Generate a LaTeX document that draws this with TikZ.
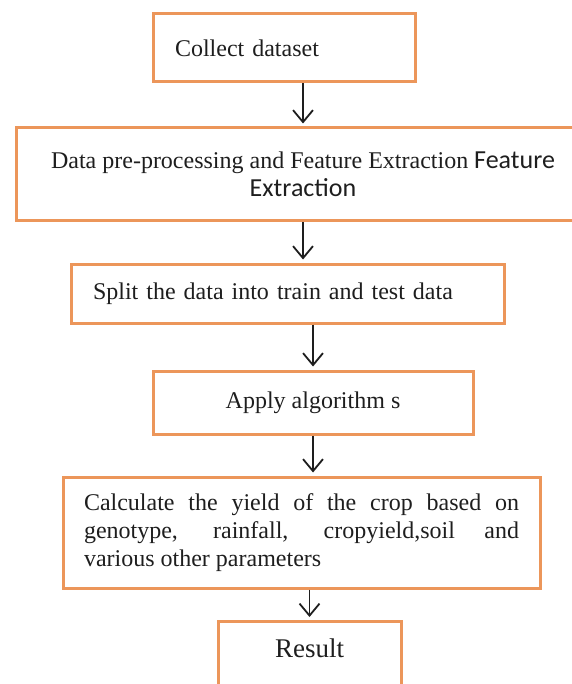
\documentclass[tikz,border=0pt]{standalone}
\usepackage{fontspec}
\setmainfont{Liberation Serif}
\newfontfamily\sidefont{Carlito}
\usetikzlibrary{arrows.meta}
\definecolor{boxorange}{RGB}{236,150,90}
\definecolor{inkgray}{RGB}{30,30,30}

\begin{document}
\begin{tikzpicture}[x=1pt, y=-1pt,
    box/.style={draw=boxorange, line width=3pt, text=inkgray,
        font=\fontsize{24}{28}\selectfont, minimum height=#1, inner ysep=0pt},
    flow/.style={draw=inkgray, line width=1.8pt, shorten >=3pt,
        -{Straight Barb[length=12pt,width=20pt]}}]
\useasboundingbox (0,0) rectangle (571,684);
% steps, top to bottom
\node[box=68pt, inner xsep=22pt, text width=218pt, align=left] (collect) at (284,48) {Collect dataset};
\node[box=93pt, minimum width=574pt, align=center] (prep) at (303,174.5)
    {Data pre-processing and Feature Extraction {\sidefont\fontsize{26}{28}\selectfont Feature}\\{\sidefont\fontsize{26}{28}\selectfont Extraction}};
\node[box=59pt, inner xsep=22pt, text width=389pt, align=left] (split) at (287.5,293.5) {Split the data into train and test data};
\node[box=63pt, minimum width=320pt] (apply) at (313,402.5) {Apply algorithm s};
\node[box=111pt, inner xsep=21pt, text width=435pt, align=justify] (calc) at (301.5,532.5)
    {Calculate the yield of the crop based on\linebreak genotype, rainfall, cropyield,soil and\linebreak various other parameters};
\node[box=0pt, anchor=north, minimum width=183pt, text height=18pt, text depth=20pt, inner ysep=18pt,
    font=\fontsize{27}{30}\selectfont] (result) at (309.5,620) {Result};
% connectors
\draw[flow] (collect.south -| prep.north) -- (prep.north);
\draw[flow] (prep.south) -- (prep.south |- split.north);
\draw[flow] (split.south -| apply.north) -- (apply.north);
\draw[flow] (apply.south) -- (apply.south |- calc.north);
\draw[flow] (calc.south -| result.north) -- (result.north);
\end{tikzpicture}
\end{document}
